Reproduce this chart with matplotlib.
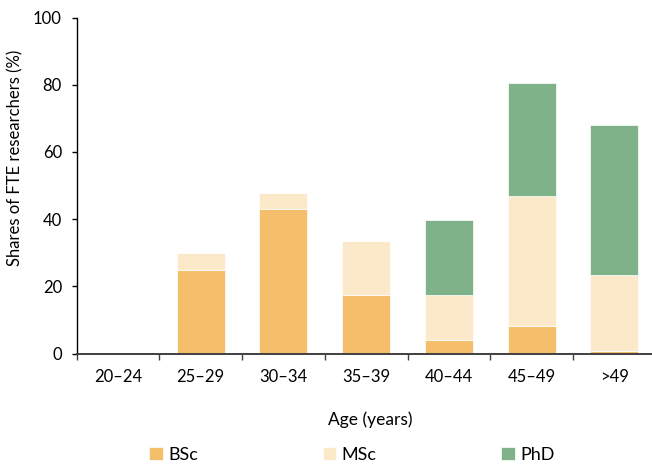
import matplotlib
matplotlib.use("Agg")
import matplotlib.pyplot as plt
import numpy as np

# shares of FTE researchers by age group and degree
ages = ["20\u201324", "25\u201329", "30\u201334", "35\u201339", "40\u201344", "45\u201349", ">49"]
bsc = [0, 25.0, 43.0, 17.5, 4.0, 8.3, 0.7]
msc = [0, 5.0, 4.9, 16.1, 13.5, 38.7, 22.7]
phd = [0, 0, 0, 0, 22.3, 33.5, 44.6]

plt.rcParams['font.family'] = ['Lato', 'DejaVu Sans']

fig = plt.figure(figsize=(6.52, 4.66), dpi=100)
ax = fig.add_axes([0.1176, 0.2414, 0.888, 0.721])

x = np.arange(len(ages))
w = 0.58
ec = "#FFFFFF"
ax.bar(x, bsc, w, color="#F5BE6A", edgecolor=ec, linewidth=0.5, label="BSc")
ax.bar(x, msc, w, bottom=bsc, color="#FCE9C9", edgecolor=ec, linewidth=0.5, label="MSc")
bot = np.array(bsc) + np.array(msc)
ax.bar(x, phd, w, bottom=bot, color="#80B28A", edgecolor=ec, linewidth=0.5, label="PhD")

ax.set_xlim(-0.5, len(ages) - 0.5)
ax.set_ylim(0, 100)
ax.set_yticks(range(0, 101, 20))
ax.set_xticks(x)
ax.set_xticklabels(ages)
ax.set_xticks(np.arange(-0.5, len(ages) - 0.4, 1), minor=True)
ax.tick_params(axis="x", which="major", length=0, pad=11, labelsize=12)
ax.tick_params(axis="x", which="minor", length=4.3, width=1, color="#404040")
ax.tick_params(axis="y", length=3.6, width=1, labelsize=12, pad=7)

for s in ["top", "right"]:
    ax.spines[s].set_visible(False)
ax.spines["bottom"].set_color("#404040")
ax.spines["bottom"].set_linewidth(1.4)
ax.spines["left"].set_linewidth(1)

fig.text(15 / 652, 1 - 158 / 466, "Shares of FTE researchers (%)", rotation=90,
         ha="center", va="center", fontsize=12)
fig.text(370 / 652, 1 - 420 / 466, "Age (years)", ha="center", va="center", fontsize=12.5)

fig.legend(loc="center", bbox_to_anchor=(352 / 652, 1 - 455 / 466), ncol=3, frameon=False,
           fontsize=13, handlelength=0.76, handleheight=0.76, columnspacing=6.9,
           handletextpad=0.3, borderpad=0, borderaxespad=0)

fig.savefig("out.png", dpi=100)
